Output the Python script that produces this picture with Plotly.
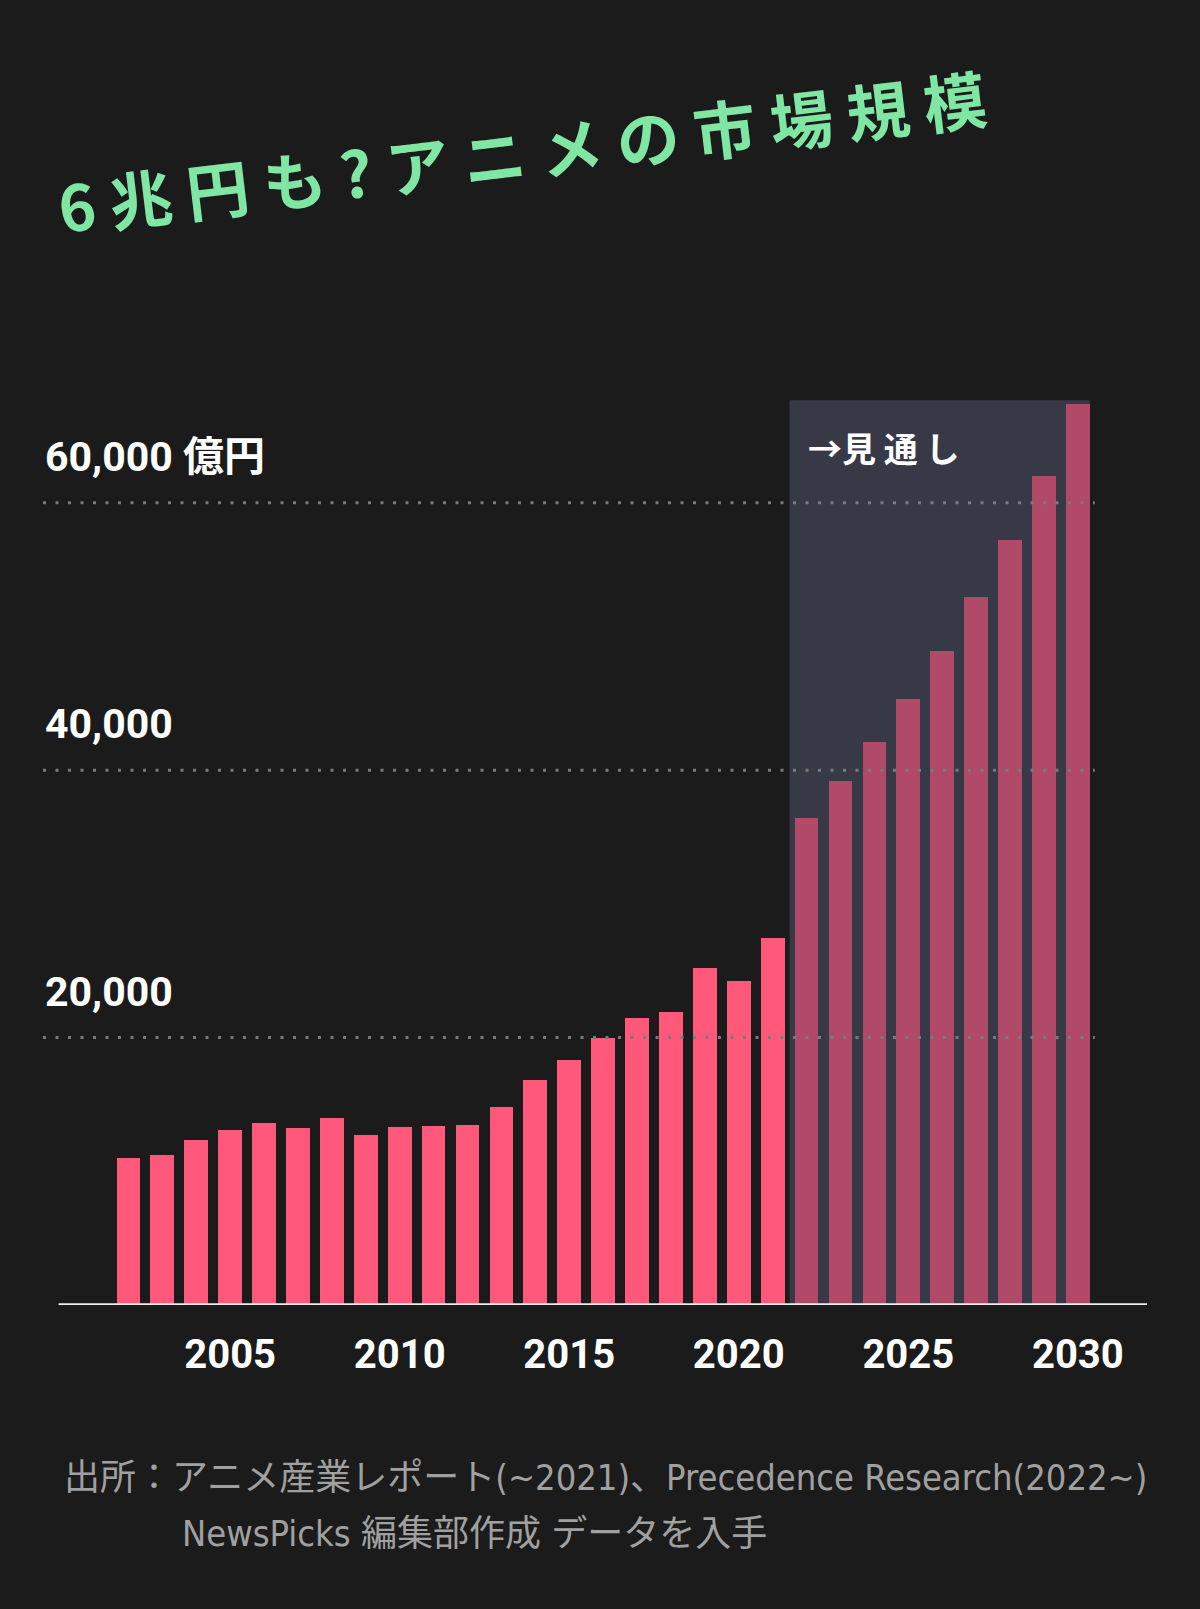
import plotly.graph_objects as go

# ---- data ----
hist_years = list(range(2002, 2022))
hist_values = [11000, 11240, 12310, 13100, 13600, 13250, 13980, 12740, 13290, 13420,
               13460, 14820, 16800, 18300, 20000, 21450, 21880, 25190, 24260, 27430]
fc_years = list(range(2022, 2031))
fc_values = [36400, 39180, 42100, 45320, 48910, 52960, 57230, 62020, 67400]
grid_vals = [20000, 40000, 60000]
grid_labels = ["20,000", "40,000", "60,000 億円"]
x_tick_vals = [2005, 2010, 2015, 2020, 2025, 2030]
x_tick_text = ["2005", "2010", "2015", "2020", "2025", "2030"]

title_text = "6 兆 円 も ? ア ニ メ の 市 場 規 模"
forecast_label = "→見 通 し"
source_line1 = "出所：アニメ産業レポート(~2021)、Precedence Research(2022~)"
source_line2 = "NewsPicks 編集部作成 データを入手"

# ---- style ----
BG = "#1b1b1b"
HIST_COLOR = "#ff587a"
FC_COLOR = "#b04a68"
SHADE = "#383946"
GREEN = "#7fe6a4"
NUM_FONT = "Roboto, Noto Sans CJK JP, sans-serif"
SRC_FONT = "DejaVu Sans Condensed, Noto Sans CJK JP, sans-serif"
CJK_FONT = "Noto Sans CJK JP, sans-serif"

X_MIN, X_MAX = 1999.48, 2032.04
Y_MAX = 70000

fig = go.Figure()
fig.add_trace(go.Bar(x=hist_years, y=hist_values, marker=dict(color=HIST_COLOR, line=dict(width=0)),
                     width=0.7, showlegend=False, hoverinfo="skip"))
fig.add_trace(go.Bar(x=fc_years, y=fc_values, marker=dict(color=FC_COLOR, line=dict(width=0)),
                     width=0.7, showlegend=False, hoverinfo="skip"))

shapes = []
# forecast shaded region
shapes.append(dict(type="rect", xref="x", yref="y", x0=fc_years[0] - 0.5, x1=fc_years[-1] + 0.35,
                   y0=0, y1=max(fc_values) * 1.004, fillcolor=SHADE, line=dict(width=0), layer="below"))
# dotted gridlines
for v in grid_vals:
    shapes.append(dict(type="line", xref="x", yref="y", x0=X_MIN, x1=fc_years[-1] + 0.5, y0=v, y1=v,
                       line=dict(color="#7a7a7a", width=3, dash="3px,9.5px"), layer="above"))
# baseline
shapes.append(dict(type="line", xref="x", yref="y", x0=X_MIN + 0.46, x1=X_MAX, y0=0, y1=0,
                   line=dict(color="#eeeeee", width=3.5), layer="above"))

annotations = []
for v, t in zip(grid_vals, grid_labels):
    annotations.append(dict(xref="paper", yref="y", x=0, y=v, text=t, showarrow=False,
                            xanchor="left", yanchor="bottom", yshift=20,
                            font=dict(family=NUM_FONT, size=41, color="#ffffff", weight="bold")))
annotations.append(dict(xref="paper", yref="paper", x=0.434, y=1.233, text=title_text, showarrow=False,
                        textangle=-6.8, xanchor="center", yanchor="middle",
                        font=dict(family=CJK_FONT, size=63, color=GREEN, weight="bold")))
annotations.append(dict(xref="x", yref="paper", x=fc_years[0] - 0.5, y=0.9156, text=forecast_label,
                        showarrow=False, xanchor="left", yanchor="middle", xshift=16,
                        font=dict(family=CJK_FONT, size=34, color="#ffffff", weight="bold")))
annotations.append(dict(xref="paper", yref="paper", x=0.0172, y=-0.1848, text=source_line1, showarrow=False,
                        xanchor="left", yanchor="middle",
                        font=dict(family=SRC_FONT, size=36, color="#a0a0a0")))
annotations.append(dict(xref="paper", yref="paper", x=0.1241, y=-0.2436, text=source_line2, showarrow=False,
                        xanchor="left", yanchor="middle",
                        font=dict(family=SRC_FONT, size=36, color="#a0a0a0")))

fig.update_layout(
    width=1200, height=1609,
    paper_bgcolor=BG, plot_bgcolor=BG,
    margin=dict(l=43, r=53, t=369, b=304, autoexpand=False),
    bargap=0, barmode="overlay",
    shapes=shapes, annotations=annotations,
    xaxis=dict(range=[X_MIN, X_MAX], tickvals=x_tick_vals, ticktext=x_tick_text,
               showgrid=False, zeroline=False, showline=False, ticks="",
               ticklabelstandoff=22,
               tickfont=dict(family=NUM_FONT, size=40, color="#ffffff", weight="bold"), fixedrange=True),
    yaxis=dict(range=[0, Y_MAX], showgrid=False, zeroline=False, showticklabels=False,
               showline=False, fixedrange=True),
)

fig.write_html("out.html", config={"displayModeBar": False},
               post_script="document.body.style.margin='0';document.body.style.background='#1b1b1b';")
